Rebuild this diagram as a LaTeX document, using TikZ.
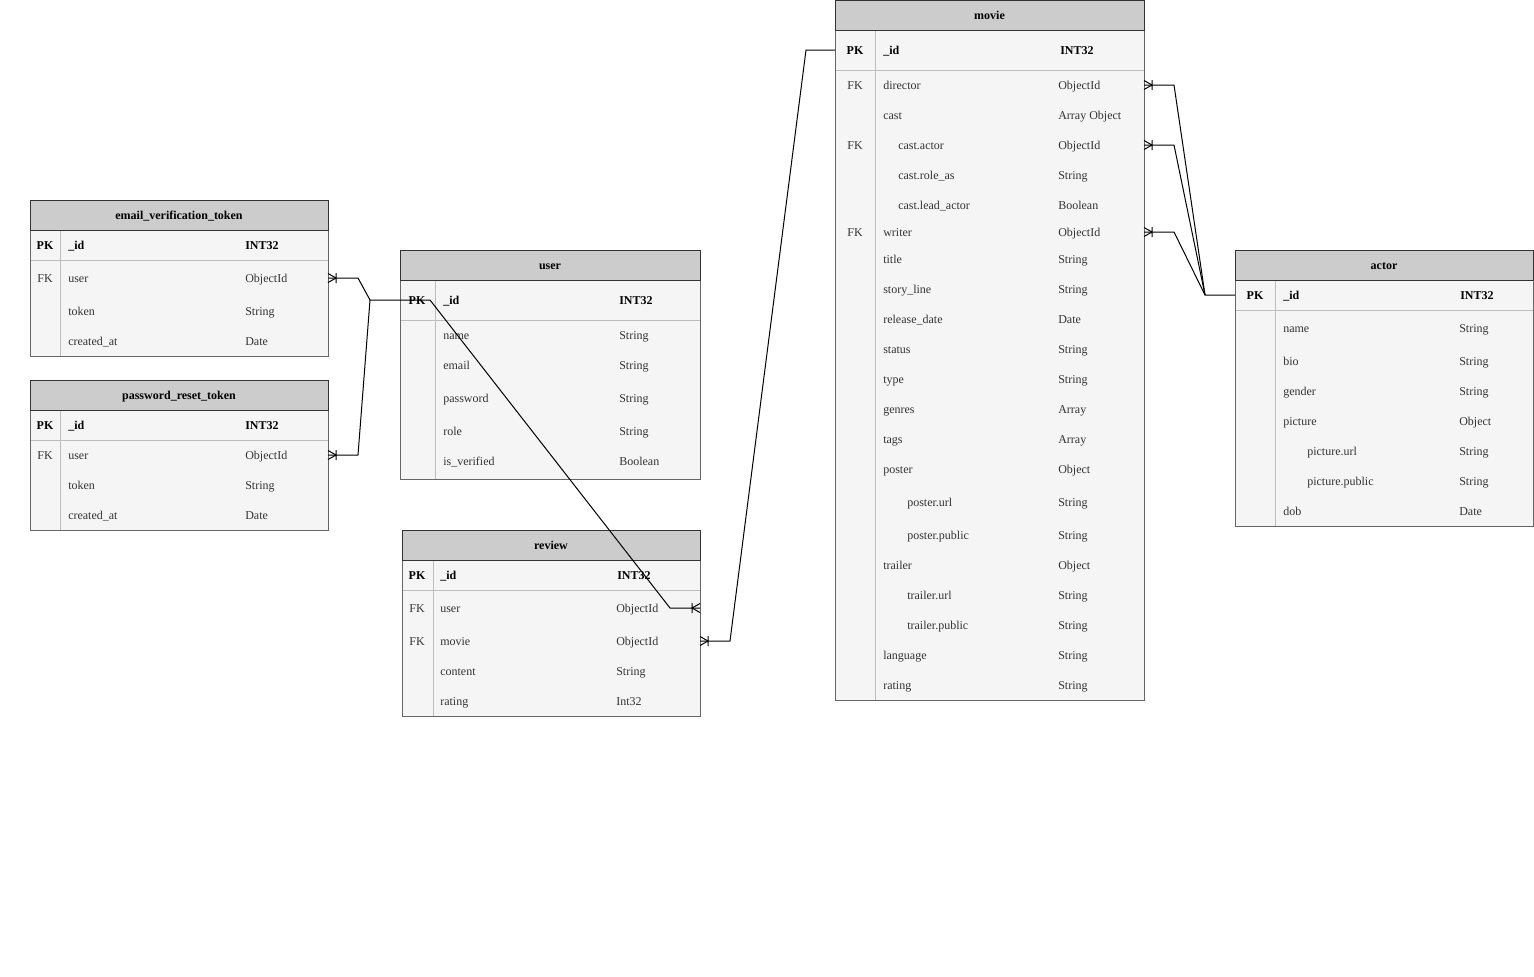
\documentclass[tikz,border=0pt]{standalone}
\usepackage{fontspec}
\setmainfont{Liberation Serif}

\definecolor{headgray}{HTML}{CCCCCC}
\definecolor{bodygray}{HTML}{F5F5F5}
\definecolor{framegray}{HTML}{666666}
\definecolor{sepgray}{HTML}{BDBDBD}
\definecolor{txtgray}{HTML}{333333}

\tikzset{
  crowfoot/.pic={\draw[line width=0.75pt] (0,-4.5) -- (8,0) -- (0,4.5) (8,-5) -- (8,5);},
  tabbody/.style={fill=bodygray},
  tabhead/.style={fill=headgray},
  tabsep/.style={draw=sepgray,line width=0.75pt},
  tabframe/.style={draw=framegray,line width=0.75pt},
  headframe/.style={draw=txtgray,line width=0.75pt}
}

% #1 name, #2 title, #3 left, #4 right, #5 top, #6 pk line, #7 bottom, #8 divider
\newcommand{\ertable}[8]{%
  \fill[tabbody] (#3,#5) rectangle (#4,#7);
  \fill[tabhead] (#3,#5) rectangle (#4,#5+30);
  \draw[tabsep] (#3,#6) -- (#4,#6) (#8,#5+30) -- (#8,#7);
  \draw[tabframe] (#3,#5) rectangle (#4,#7);
  \draw[headframe] (#3,#5) rectangle (#4,#5+30);
  \node[titletxt] (#1) at ({(#3+#4)/2},#5+15) {#2};
  \coordinate (#1-w) at (#3,#5);
  \coordinate (#1-e) at (#4,#5);
}

\begin{document}
\begin{tikzpicture}[x=0.75pt,y=-0.75pt,
  basetxt/.style={inner sep=0pt,text height=7.5pt,text depth=1.5pt,font=\fontsize{9}{11}\selectfont},
  fldtxt/.style={basetxt,anchor=west,text=txtgray},
  keytxt/.style={basetxt,text=txtgray},
  pkkey/.style={keytxt,text=black,font=\fontsize{9}{11}\selectfont\bfseries},
  pkfld/.style={fldtxt,text=black,font=\fontsize{9}{11}\selectfont\bfseries},
  titletxt/.style={basetxt,text=black,font=\fontsize{9}{11}\selectfont\bfseries},
  relline/.style={line width=0.75pt,black}]
\useasboundingbox (0,0) rectangle (1534,976);

% email_verification_token
\ertable{evt}{email\_verification\_token}{30}{328}{200}{260}{356}{60}
\node[pkkey] (evt-kpk) at (45,245) {PK};
\node[pkfld] (evt-id) at (68,245) {\_id};
\node[pkfld] (evt-id-t) at (245,245) {INT32};
\node[keytxt] (evt-kfk) at (45,278) {FK};
\foreach \id/\y/\n/\t in {user/278/user/ObjectId, token/311/token/String, created/341/created\_at/Date}{
  \node[fldtxt] (evt-\id) at (68,\y) {\n};
  \node[fldtxt] (evt-\id-t) at (245,\y) {\t};
}

% password_reset_token
\ertable{prt}{password\_reset\_token}{30}{328}{380}{440}{530}{60}
\node[pkkey] (prt-kpk) at (45,425) {PK};
\node[pkfld] (prt-id) at (68,425) {\_id};
\node[pkfld] (prt-id-t) at (245,425) {INT32};
\node[keytxt] (prt-kfk) at (45,455) {FK};
\foreach \id/\y/\n/\t in {user/455/user/ObjectId, token/485/token/String, created/515/created\_at/Date}{
  \node[fldtxt] (prt-\id) at (68,\y) {\n};
  \node[fldtxt] (prt-\id-t) at (245,\y) {\t};
}

% user
\ertable{user}{user}{400}{700}{250}{320}{479}{435}
\node[pkkey] (user-kpk) at (417,300) {PK};
\node[pkfld] (user-id) at (443,300) {\_id};
\node[pkfld] (user-id-t) at (619,300) {INT32};
\foreach \id/\y/\n/\t in {name/335/name/String, email/365/email/String, pass/398/password/String, role/431/role/String, verified/461/is\_verified/Boolean}{
  \node[fldtxt] (user-\id) at (443,\y) {\n};
  \node[fldtxt] (user-\id-t) at (619,\y) {\t};
}

% review
\ertable{rev}{review}{402}{700}{530}{590}{716}{433}
\node[pkkey] (rev-kpk) at (417,575) {PK};
\node[pkfld] (rev-id) at (440,575) {\_id};
\node[pkfld] (rev-id-t) at (617,575) {INT32};
\node[keytxt] (rev-kfk1) at (417,608) {FK};
\node[keytxt] (rev-kfk2) at (417,641) {FK};
\foreach \id/\y/\n/\t in {user/608/user/ObjectId, movie/641/movie/ObjectId, content/671/content/String, rating/701/rating/Int32}{
  \node[fldtxt] (rev-\id) at (440,\y) {\n};
  \node[fldtxt] (rev-\id-t) at (616,\y) {\t};
}

% movie
\ertable{movie}{movie}{835}{1144}{0.5}{70}{700}{875}
\node[pkkey] (movie-kpk) at (855,50) {PK};
\node[pkfld] (movie-id) at (883,50) {\_id};
\node[pkfld] (movie-id-t) at (1060,50) {INT32};
\foreach \y [count=\i] in {85,145,232}
  \node[keytxt] (movie-kfk\i) at (855,\y) {FK};
\foreach \id/\x/\y/\n/\t in {dir/883/85/director/ObjectId, cast/883/115/cast/Array Object,
  castactor/898/145/cast.actor/ObjectId, roleas/898/175/cast.role\_as/String,
  lead/898/205/cast.lead\_actor/Boolean, writer/883/232/writer/ObjectId,
  title/883/259/title/String, story/883/289/story\_line/String,
  release/883/319/release\_date/Date, status/883/349/status/String,
  type/883/379/type/String, genres/883/409/genres/Array, tags/883/439/tags/Array,
  poster/883/469/poster/Object, purl/907/502/poster.url/String,
  ppub/907/535/poster.public/String, trailer/883/565/trailer/Object,
  turl/907/595/trailer.url/String, tpub/907/625/trailer.public/String,
  lang/883/655/language/String, rating/883/685/rating/String}{
  \node[fldtxt] (movie-\id) at (\x,\y) {\n};
  \node[fldtxt] (movie-\id-t) at (1058,\y) {\t};
}

% actor
\ertable{actor}{actor}{1235}{1533}{250}{310}{526}{1275}
\node[pkkey] (actor-kpk) at (1255,295) {PK};
\node[pkfld] (actor-id) at (1283,295) {\_id};
\node[pkfld] (actor-id-t) at (1460,295) {INT32};
\foreach \id/\x/\y/\n/\t in {name/1283/328/name/String, bio/1283/361/bio/String,
  gender/1283/391/gender/String, picture/1283/421/picture/Object,
  purl/1307/451/picture.url/String, ppub/1307/481/picture.public/String,
  dob/1283/511/dob/Date}{
  \node[fldtxt] (actor-\id) at (\x,\y) {\n};
  \node[fldtxt] (actor-\id-t) at (1459,\y) {\t};
}

% relations
\coordinate (ujoin) at (370,300);
\coordinate (ajoin) at (1205,295);
\draw[relline] (evt-user -| evt-e) -- ++(30,0) -- (ujoin) -- ++(60,0) -- ++(240,308) -- (rev-user -| rev-e);
\draw[relline] (prt-user -| prt-e) -- ++(30,0) -- (ujoin);
\draw[relline] (rev-movie -| rev-e) -- ++(30,0) -- ++(76,-591) -- (movie-kpk -| movie-w);
\draw[relline] (movie-dir -| movie-e) -- ++(30,0) -- (ajoin) -- (actor-kpk -| actor-w);
\draw[relline] (movie-castactor -| movie-e) -- ++(30,0) -- (ajoin);
\draw[relline] (movie-writer -| movie-e) -- ++(30,0) -- (ajoin);

\pic at (evt-user -| evt-e) {crowfoot};
\pic at (prt-user -| prt-e) {crowfoot};
\pic[xscale=-1] at (rev-user -| rev-e) {crowfoot};
\pic at (rev-movie -| rev-e) {crowfoot};
\pic at (movie-dir -| movie-e) {crowfoot};
\pic at (movie-castactor -| movie-e) {crowfoot};
\pic at (movie-writer -| movie-e) {crowfoot};

\end{tikzpicture}
\end{document}
